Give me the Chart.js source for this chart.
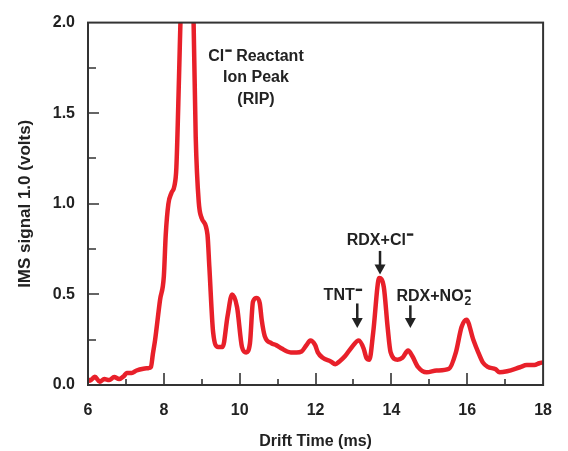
<!DOCTYPE html>
<html>
<head>
<meta charset="utf-8">
<script src="https://cdn.jsdelivr.net/npm/chart.js@4.4.1/dist/chart.umd.min.js"></script>
<style>
  html, body { margin: 0; padding: 0; background: #fff; }
  canvas { display: block; }
</style>
</head>
<body>
<canvas id="imsChart" width="568" height="451"></canvas>
<script>
// drift time (ms) and IMS signal (volts)
const driftTime = [6.0, 6.05, 6.18, 6.31, 6.43, 6.56, 6.69, 6.82, 6.95, 7.02, 7.15, 7.28, 7.46, 7.59, 7.66, 7.71, 7.77, 7.9, 8.0, 8.05, 8.12, 8.2, 8.28, 8.33, 8.4, 8.45, 8.55, 8.7, 8.78, 8.84, 8.92, 9.0, 9.15, 9.2, 9.3, 9.43, 9.55, 9.68, 9.8, 9.93, 10.06, 10.17, 10.27, 10.35, 10.45, 10.53, 10.58, 10.66, 10.84, 10.96, 11.12, 11.25, 11.35, 11.5, 11.63, 11.76, 11.86, 11.99, 12.06, 12.19, 12.4, 12.52, 12.63, 12.78, 12.96, 13.14, 13.27, 13.34, 13.42, 13.52, 13.68, 13.8, 13.9, 13.98, 14.16, 14.29, 14.44, 14.55, 14.7, 14.93, 15.19, 15.52, 15.7, 15.85, 15.98, 16.16, 16.29, 16.41, 16.54, 16.75, 16.85, 17.05, 17.39, 17.57, 17.77, 17.9, 18.0]
const imsSignal = [0.03, 0.024, 0.045, 0.018, 0.033, 0.027, 0.044, 0.033, 0.05, 0.066, 0.066, 0.08, 0.09, 0.093, 0.1, 0.17, 0.25, 0.47, 0.6, 0.83, 1.0, 1.06, 1.1, 1.2, 1.7, 2.1, 2.6, 2.6, 2.05, 1.37, 1.01, 0.92, 0.83, 0.65, 0.29, 0.21, 0.21, 0.38, 0.5, 0.43, 0.21, 0.18, 0.23, 0.46, 0.48, 0.45, 0.36, 0.27, 0.23, 0.22, 0.2, 0.185, 0.18, 0.18, 0.185, 0.22, 0.245, 0.22, 0.18, 0.15, 0.13, 0.115, 0.13, 0.16, 0.21, 0.245, 0.2, 0.15, 0.14, 0.29, 0.59, 0.54, 0.32, 0.18, 0.14, 0.15, 0.19, 0.16, 0.1, 0.07, 0.08, 0.09, 0.18, 0.32, 0.36, 0.25, 0.18, 0.125, 0.1, 0.087, 0.07, 0.076, 0.098, 0.11, 0.11, 0.12, 0.125]

// axis ranges / tick steps
const xRange = [6, 18]
const yRange = [0, 2]
const xTickStep = 2
const yTickStep = 0.5

// arrows: x position, tail and tip (in volts)
const arrowX = [13.1, 13.7, 14.5]
const arrowTop = [0.45, 0.74, 0.44]
const arrowTip = [0.315, 0.61, 0.315]

// text labels: parts are [text, kind] where kind is '', 'sup' (raised bar) or 'subsup'
const labels = [
  { x: 10.43, y: 1.82, parts: [["Cl", ""], ["-", "sup"], [" Reactant", ""]] },
  { x: 10.43, y: 1.705, parts: [["Ion Peak", ""]] },
  { x: 10.43, y: 1.585, parts: [["(RIP)", ""]] },
  { x: 12.72, y: 0.5, parts: [["TNT", ""], ["-", "sup"]] },
  { x: 13.7, y: 0.805, parts: [["RDX+Cl", ""], ["-", "sup"]] },
  { x: 15.12, y: 0.495, parts: [["RDX+NO", ""], ["2", "subsup"]] },
]

const ink = "#222"
const frameColor = "#333"
const FONT = '"Liberation Sans", Arial, Helvetica, sans-serif'

function drawRich(ctx, cx, cy, parts, fs) {
  ctx.font = "bold " + fs + "px " + FONT
  const subFont = "bold " + Math.round(fs * 0.72) + "px " + FONT
  const barW = fs * 0.4
  // measure
  let total = 0
  parts.forEach(([t, kind]) => {
    if (kind === "") { ctx.font = "bold " + fs + "px " + FONT; total += ctx.measureText(t).width }
    else if (kind === "sup") total += barW + 1
    else { ctx.font = subFont; total += Math.max(ctx.measureText(t).width, barW) + 1 }
  })
  let x = cx - total / 2
  const base = cy + fs * 0.36
  const cap = fs * 0.72
  ctx.fillStyle = ink
  ctx.textBaseline = "alphabetic"
  ctx.textAlign = "left"
  parts.forEach(([t, kind]) => {
    if (kind === "") {
      ctx.font = "bold " + fs + "px " + FONT
      ctx.fillText(t, x, base)
      x += ctx.measureText(t).width
    } else if (kind === "sup") {
      ctx.fillRect(x + 1, base - cap, barW, fs * 0.15)
      x += barW + 1
    } else {
      ctx.font = subFont
      ctx.fillText(t, x + 1, base + fs * 0.22)
      ctx.fillRect(x + 1, base - cap, barW, fs * 0.15)
      x += Math.max(ctx.measureText(t).width, barW) + 1
    }
  })
}

const decorPlugin = {
  id: "decor",
  afterDatasetsDraw(chart) {
    const { ctx, chartArea: a, scales: { x, y } } = chart
    ctx.save()
    // frame
    ctx.strokeStyle = frameColor
    ctx.lineWidth = 2
    ctx.strokeRect(a.left, a.top, a.right - a.left, a.bottom - a.top)
    // inward ticks
    ctx.lineWidth = 1.6
    ctx.beginPath()
    for (let v = xRange[0] + 1; v < xRange[1]; v += 1) {
      const px = Math.round(x.getPixelForValue(v))
      const len = v % 2 === 0 ? 12 : 6
      ctx.moveTo(px, a.bottom); ctx.lineTo(px, a.bottom - len)
    }
    for (let v = yRange[0] + 0.25; v < yRange[1]; v += 0.25) {
      const py = Math.round(y.getPixelForValue(v))
      const len = Math.abs(v * 2 - Math.round(v * 2)) < 1e-6 ? 11 : 8
      ctx.moveTo(a.left, py); ctx.lineTo(a.left + len, py)
    }
    ctx.stroke()
    // arrows
    ctx.fillStyle = ink
    ctx.strokeStyle = ink
    arrowX.forEach((ax, i) => {
      const px = x.getPixelForValue(ax)
      const top = y.getPixelForValue(arrowTop[i])
      const tip = y.getPixelForValue(arrowTip[i])
      ctx.lineWidth = 2.5
      ctx.beginPath()
      ctx.moveTo(px, top); ctx.lineTo(px, tip - 8)
      ctx.stroke()
      ctx.beginPath()
      ctx.moveTo(px - 5.5, tip - 10)
      ctx.lineTo(px + 5.5, tip - 10)
      ctx.lineTo(px, tip)
      ctx.closePath()
      ctx.fill()
    })
    // text labels
    labels.forEach(l => drawRich(ctx, x.getPixelForValue(l.x), y.getPixelForValue(l.y), l.parts, 16))
    ctx.restore()
  },
}

new Chart(document.getElementById("imsChart"), {
  type: "line",
  data: {
    datasets: [{
      data: driftTime.map((t, i) => ({ x: t, y: imsSignal[i] })),
      borderColor: "#e8202a",
      borderWidth: 4.5,
      pointRadius: 0,
      cubicInterpolationMode: "monotone",
      clip: 0,
      fill: false,
    }],
  },
  options: {
    responsive: false,
    animation: false,
    layout: { padding: { top: 19, right: 11, left: 0, bottom: 0 } },
    plugins: { legend: { display: false }, tooltip: { enabled: false } },
    scales: {
      x: {
        type: "linear",
        min: xRange[0],
        max: xRange[1],
        afterFit: s => { s.height = 66 },
        grid: { display: false, drawTicks: false },
        border: { display: false },
        ticks: {
          stepSize: xTickStep,
          padding: 16,
          color: ink,
          font: { family: FONT, size: 16, weight: "bold" },
          maxRotation: 0,
        },
        title: {
          display: true,
          text: "Drift Time (ms)",
          color: ink,
          font: { family: FONT, size: 16, weight: "bold" },
          padding: 0,
        },
      },
      y: {
        min: yRange[0],
        max: yRange[1],
        afterFit: s => { s.width = 88 },
        grid: { display: false, drawTicks: false },
        border: { display: false },
        ticks: {
          stepSize: yTickStep,
          padding: 13,
          color: ink,
          font: { family: FONT, size: 16, weight: "bold" },
          callback: v => v.toFixed(1),
        },
        title: {
          display: true,
          text: "IMS signal 1.0 (volts)",
          color: ink,
          font: { family: FONT, size: 17, weight: "bold" },
          padding: { top: 15, bottom: 0 },
        },
      },
    },
  },
  plugins: [decorPlugin],
})
</script>
</body>
</html>
